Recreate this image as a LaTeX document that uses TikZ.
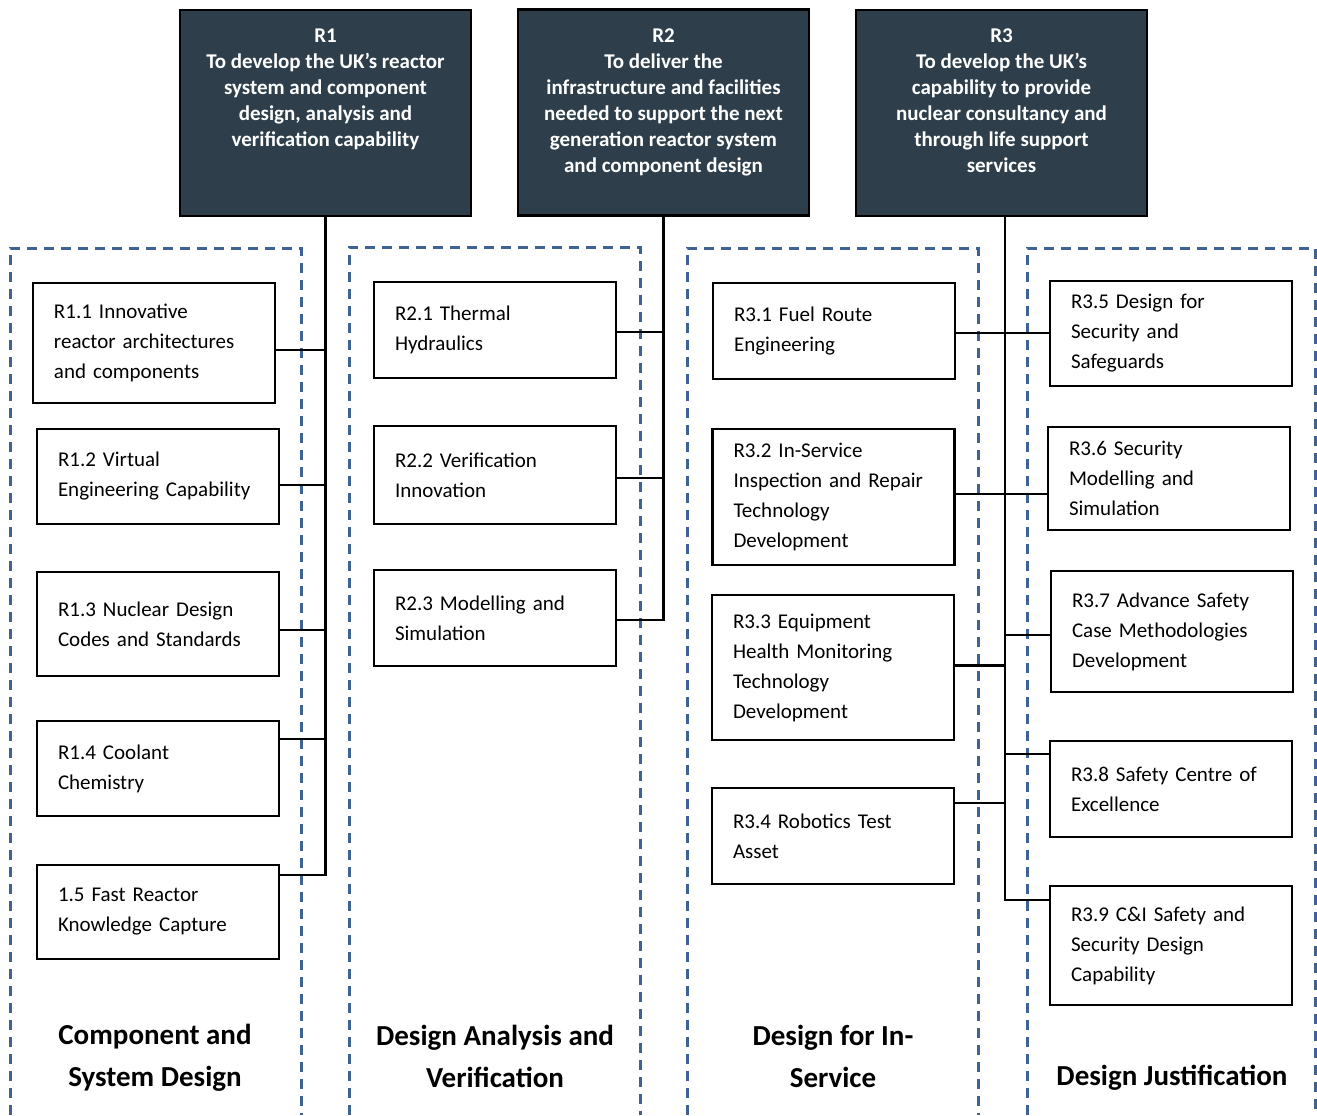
\documentclass[tikz,border=0pt]{standalone}
\usepackage{fontspec}
\setmainfont{Carlito}
\usepackage{tikz}
\usetikzlibrary{calc}
\definecolor{goalfill}{HTML}{2E3F4B}
\definecolor{laneblue}{HTML}{3F6294}
\newcommand{\subfont}{\fontsize{10.5}{15}\selectfont}
\newcommand{\goalfont}{\bfseries\fontsize{10.5}{13}\selectfont}
\newcommand{\lanefont}{\bfseries\fontsize{14.5}{21}\selectfont}
\newcommand{\goaltext}[1]{\parbox[c][84pt][t]{140pt}{\centering #1}}

\begin{document}
\begin{tikzpicture}[x=0.5pt,y=-0.5pt,
  goal/.style={draw=black,fill=goalfill,line width=1.2pt,text=white,font=\goalfont,
    inner sep=0pt,minimum width=145.5pt,minimum height=103pt},
  sub/.style={draw=black,line width=1.2pt,text width=100pt,inner xsep=10.5pt,
    align=left,font=\subfont,minimum height=#1},
  lane/.style={draw=laneblue,line width=1.5pt,dash pattern=on 5pt off 3.5pt},
  lanetitle/.style={font=\lanefont,align=center},
  link/.style={line width=1.2pt}]
\useasboundingbox (0,0) rectangle (1317,1115);

% dashed lanes
\draw[lane] (10,1115) -- (10,248) -- (301,248) -- (301,1115);
\draw[lane] (349,1115) -- (349,247) -- (640,247) -- (640,1115);
\draw[lane] (687,1115) -- (687,248) -- (978,248) -- (978,1115);
\draw[lane] (1027,1115) -- (1027,248) -- (1315,248) -- (1315,1115);

\node[goal] (r1) at (325.5,113) {\goaltext{R1\\To develop the UK’s reactor\\system and component\\design, analysis and\\verification capability}};
\node[goal] (r2) at (663.5,112.5) {\goaltext{R2\\To deliver the\\infrastructure and facilities\\needed to support the next\\generation reactor system\\and component design}};
\node[goal] (r3) at (1001.5,113) {\goaltext{R3\\To develop the UK’s\\capability to provide\\nuclear consultancy and\\through life support\\services}};

\node[sub=60pt] (r11) at (154,343) {R1.1 Innovative\\reactor architectures\\and components};
\node[sub=47.5pt] (r12) at (158,476.5) {R1.2 Virtual\\Engineering Capability};
\node[sub=52pt] (r13) at (158,624) {R1.3 Nuclear Design\\Codes and Standards};
\node[sub=47.5pt] (r14) at (158,768.5) {R1.4 Coolant\\Chemistry};
\node[sub=47pt] (r15) at (158,912) {1.5 Fast Reactor\\Knowledge Capture};

\node[sub=48pt] (r21) at (495,330) {R2.1 Thermal\\Hydraulics};
\node[sub=49pt] (r22) at (495,475) {R2.2 Verification\\Innovation};
\node[sub=48pt] (r23) at (495,618) {R2.3 Modelling and\\Simulation};

\node[sub=48pt] (r31) at (834,331) {R3.1 Fuel Route\\Engineering};
\node[sub=68pt] (r32) at (833.5,497) {R3.2 In-Service\\Inspection and Repair\\Technology\\Development};
\node[sub=72.5pt] (r33) at (833,667.5) {R3.3 Equipment\\Health Monitoring\\Technology\\Development};
\node[sub=48pt] (r34) at (833,836) {R3.4 Robotics Test\\Asset};

\node[sub=52.5pt] (r35) at (1171,333.5) {R3.5 Design for\\Security and\\Safeguards};
\node[sub=51.5pt] (r36) at (1169,478.5) {R3.6 Security\\Modelling and\\Simulation};
\node[sub=60.5pt] (r37) at (1172,631.5) {R3.7 Advance Safety\\Case Methodologies\\Development};
\node[sub=48pt] (r38) at (1171,789) {R3.8 Safety Centre of\\Excellence};
\node[sub=59.5pt] (r39) at (1171,945.5) {R3.9 C\&I Safety and\\Security Design\\Capability};

\node[lanetitle] (t1) at (155,1058) {Component and\\System Design};
\node[lanetitle] (t2) at (495,1056) {Design Analysis and\\Verification};
\node[lanetitle] (t3) at (833,1056) {Design for In-\\Service};
\node[lanetitle] (t4) at (1172,1078) {Design Justification};

% junctions on the boxes
\coordinate (j11) at ([yshift=-3.5pt]r11.east);
\coordinate (j12) at ([yshift=-4.25pt]r12.east);
\coordinate (j13) at ([yshift=-3pt]r13.east);
\coordinate (j14) at ([yshift=14.75pt]r14.east);
\coordinate (j15) at ([yshift=18.5pt]r15.east);
\coordinate (j21) at ([yshift=-1pt]r21.east);
\coordinate (j22) at ([yshift=-1.5pt]r22.east);
\coordinate (j23) at ([yshift=-1pt]r23.east);
\coordinate (j31) at ([yshift=-1pt]r31.east);
\coordinate (j32) at ([yshift=1.5pt]r32.east);
\coordinate (j33) at ([yshift=1pt]r33.east);
\coordinate (j34) at ([yshift=16.5pt]r34.east);
\coordinate (j37) at ([yshift=-1.75pt]r37.west);
\coordinate (j38) at ([yshift=17.5pt]r38.west);
\coordinate (j39) at ([yshift=22.75pt]r39.west);
\coordinate (s3) at ([xshift=1.75pt]r3.south);

\draw[link] (r1.south) -- (r1.south |- j15) -- (j15);
\foreach \j in {j11,j12,j13,j14} \draw[link] (\j) -- (\j -| r1.south);

\draw[link] (r2.south) -- (r2.south |- j23) -- (j23);
\foreach \j in {j21,j22} \draw[link] (\j) -- (\j -| r2.south);

\draw[link] (s3) -- (s3 |- j39) -- (j39);
\draw[link] (j31) -- (j31 -| r35.west);
\draw[link] (j32) -- (j32 -| r36.west);
\foreach \j in {j33,j34,j37,j38} \draw[link] (\j) -- (\j -| s3);
\end{tikzpicture}
\end{document}
